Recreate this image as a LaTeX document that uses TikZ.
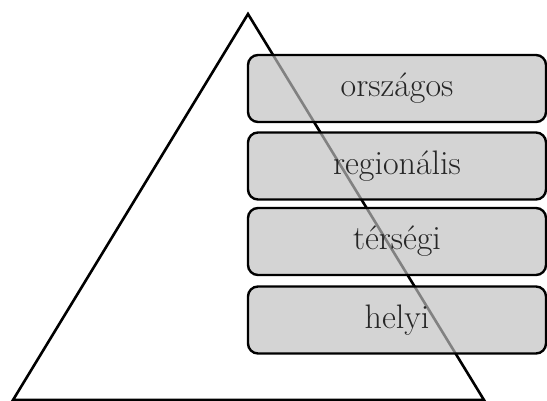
\documentclass[tikz,border=0pt]{standalone}
\usepackage{xcolor}

\begin{document}
\begin{tikzpicture}[x=1pt,y=-1pt]
\tikzstyle{level}=[draw=black, line width=2.4pt, rounded corners=10pt, fill=black!25, fill opacity=0.68, text opacity=1, text=black!85, minimum width=298pt, minimum height=67pt, inner sep=0pt, font=\fontsize{34}{40}\selectfont]
\useasboundingbox (0,0) rectangle (547,401);
% pyramid
\draw [black, line width=2.6pt, line join=miter] (13,400) -- (248,14) -- (484,400) -- cycle;
% levels
\node [level] (orszagos) at (397,88.5) {országos};
\node [level] (regionalis) at (397,166) {regionális};
\node [level] (tersegi) at (397,241.5) {térségi};
\node [level] (helyi) at (397,320) {helyi};
\end{tikzpicture}
\end{document}
